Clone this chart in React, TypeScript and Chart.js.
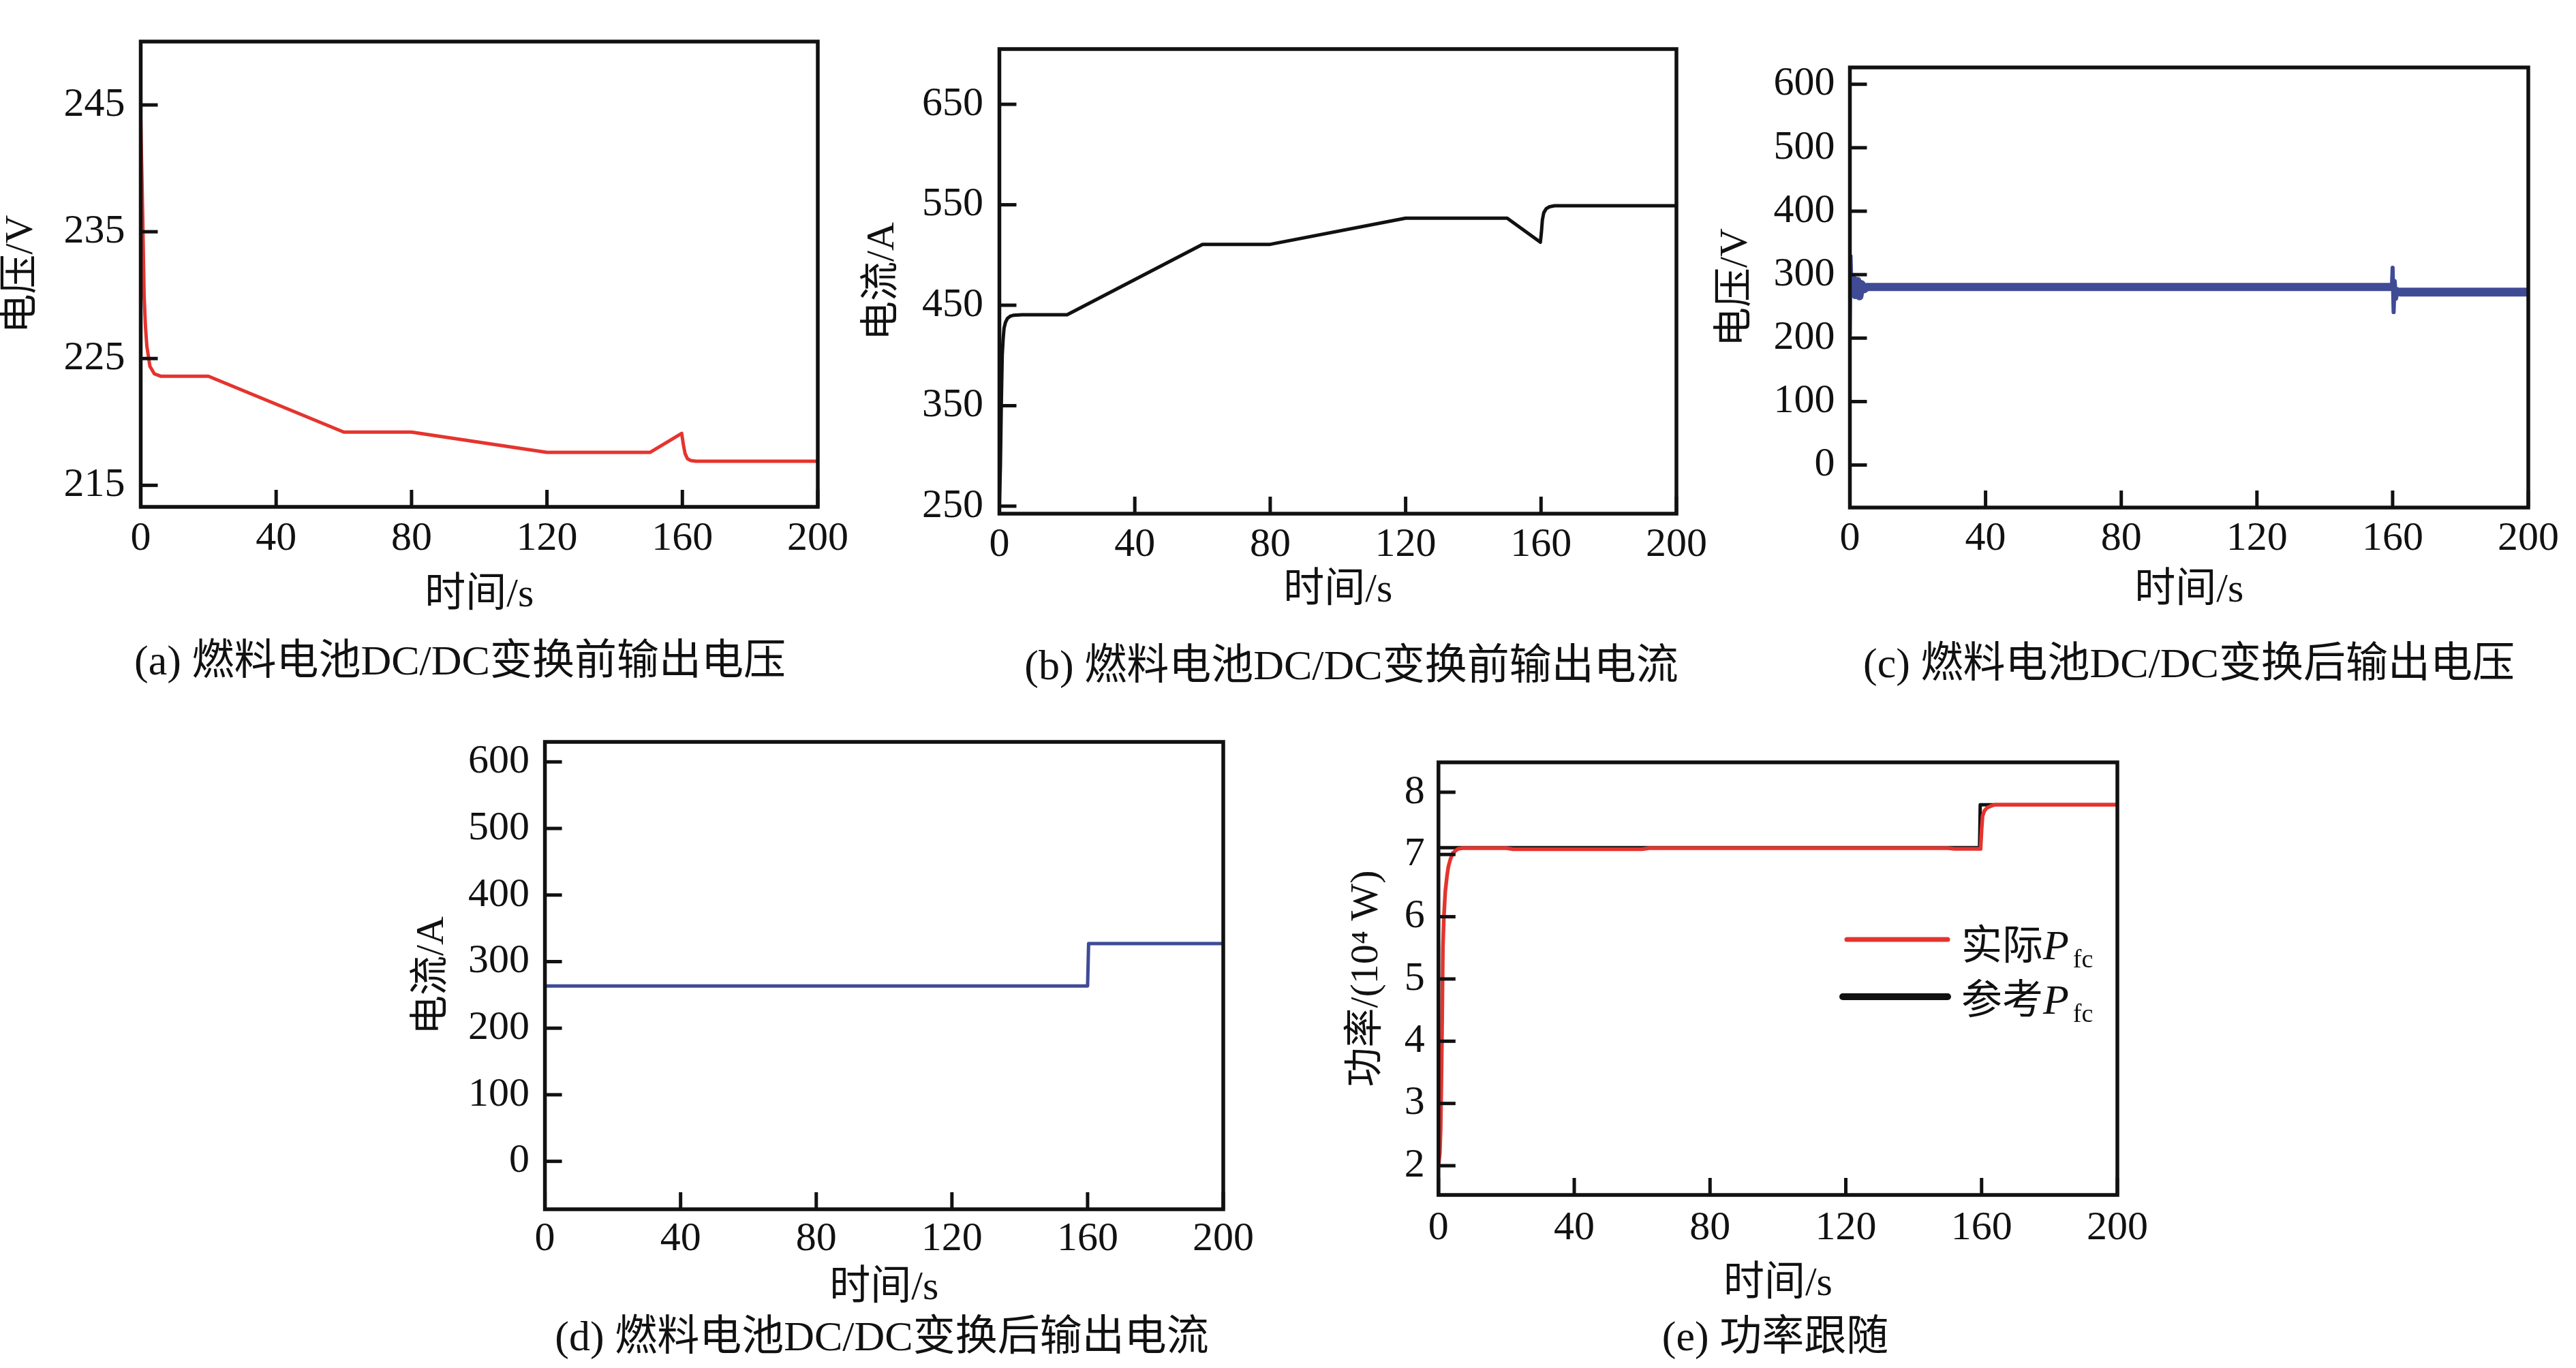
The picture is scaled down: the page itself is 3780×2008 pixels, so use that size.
import React, { useEffect, useRef } from "react";
import { Chart, registerables } from "chart.js";

Chart.register(...registerables);

// ---------- shared ticks ----------
const timeTicks = [0, 40, 80, 120, 160, 200];

// ---------- (a) fuel cell voltage before DC/DC ----------
const timeA = [0, 0.3, 0.6, 1.0, 1.4, 1.8, 2.7, 4.0, 6.0, 20, 60, 80, 120, 150.5, 159.8, 160.3, 160.8, 161.5, 162.5, 164, 200];
const voltA = [244, 240, 236, 230, 227.5, 226, 224.4, 223.8, 223.6, 223.6, 219.2, 219.2, 217.6, 217.6, 219.1, 218.2, 217.5, 217.1, 216.95, 216.9, 216.9];
const yTicksA = [215, 225, 235, 245];

// ---------- (b) fuel cell current before DC/DC ----------
const timeB = [0, 0.3, 0.57, 0.84, 1.1, 1.37, 1.8, 2.4, 3.2, 4.1, 6.7, 20, 60, 80, 120, 150, 159.8, 160.1, 160.4, 160.8, 161.5, 162.5, 164, 200];
const currB = [250, 290, 352, 400, 416, 427, 433, 437, 439, 440, 440.5, 440.5, 510.6, 510.6, 536.6, 536.6, 512.7, 522, 535, 542, 546, 548, 549, 549];
const yTicksB = [250, 350, 450, 550, 650];

// ---------- (c) voltage after DC/DC ----------
const timeC0 = [0, 0.25, 0.5, 0.8, 1.1];
const voltC0 = [557, 206, 330, 268, 292];
const timeC1 = [1.1, 1.6, 2.2, 2.8, 3.4, 4.2, 5.0, 159.8];
const voltC1 = [292, 268, 290, 266, 285, 277, 280.5, 280.5];
const timeC2 = [159.8, 160.0, 160.3, 160.6, 161.0, 161.5, 162.2];
const voltC2 = [280.5, 311, 241, 290, 262, 277, 272.5];
const timeC3 = [162.2, 200];
const voltC3 = [272.5, 272.5];
const yTicksC = [0, 100, 200, 300, 400, 500, 600];

// ---------- (d) current after DC/DC ----------
const timeD = [0, 160, 160.3, 200];
const currD = [263.5, 263.5, 327.2, 327.2];
const yTicksD = [0, 100, 200, 300, 400, 500, 600];

// ---------- (e) power tracking ----------
const timeEact = [0, 0.4, 0.65, 0.85, 1.05, 1.3, 1.6, 2.0, 2.5, 2.9, 3.5, 4.2, 5.0, 5.8, 7, 20, 22, 60, 62, 150, 152, 159.7, 160.0, 160.3, 160.8, 161.6, 162.8, 164, 200];
const powEact = [2.0, 2.2, 2.6, 3.3, 4.15, 5.5, 6.0, 6.4, 6.65, 6.8, 6.92, 7.02, 7.06, 7.09, 7.1, 7.1, 7.085, 7.085, 7.1, 7.1, 7.09, 7.09, 7.4, 7.62, 7.7, 7.75, 7.78, 7.8, 7.8];
const timeEref = [0, 159.4, 159.6, 200];
const powEref = [7.11, 7.11, 7.8, 7.8];
const yTicksE = [2, 3, 4, 5, 6, 7, 8];
const legendMain = ["实际", "参考"];
const legendSymbol = "P";
const legendSub = "fc";

// ---------- styling ----------
const INK = "#111111";
const RED = "#E5342E";
const BLUE = "#404B96";
const BLACK = "#111111";
const SERIF = "'Liberation Serif', 'Noto Sans CJK SC', serif";

function pts(xs: number[], ys: number[]) {
  return xs.map((x, i) => ({ x, y: ys[i] }));
}

type DS = { label: string; xs: number[]; ys: number[]; color: string; width: number };
type LegendItem = { main: string; color: string; width: number; x1: number; x2: number; y: number; tx: number; base: number; x1c?: number };
type Spec = {
  cx: number; cy: number; cw: number;
  plotL: number; plotR: number; plotT: number; plotB: number;
  xAxisH: number; yTitleX: number; yTickPad: number; xTickPad: number;
  yMin: number; yMax: number; yTicks: number[]; yTitle: string;
  datasets: DS[]; legend?: LegendItem[];
};

const framePlugin = {
  id: "frameTicks",
  afterDatasetsDraw(chart: any, _args: any, opts: any) {
    const { ctx, chartArea: a, scales } = chart;
    ctx.save();
    ctx.strokeStyle = INK;
    ctx.lineCap = "butt";
    ctx.lineWidth = 5;
    const len = 25;
    scales.x.ticks.forEach((t: any) => {
      const px = scales.x.getPixelForValue(t.value);
      ctx.beginPath();
      ctx.moveTo(px, a.bottom);
      ctx.lineTo(px, a.bottom - len);
      ctx.stroke();
    });
    scales.y.ticks.forEach((t: any) => {
      const py = scales.y.getPixelForValue(t.value);
      ctx.beginPath();
      ctx.moveTo(a.left, py);
      ctx.lineTo(a.left + len, py);
      ctx.stroke();
    });
    ctx.lineWidth = 5.5;
    ctx.strokeRect(a.left, a.top, a.right - a.left, a.bottom - a.top);

    const legend: LegendItem[] | undefined = opts && opts.legend;
    if (legend) {
      legend.forEach((it) => {
        ctx.strokeStyle = it.color;
        ctx.lineWidth = it.width;
        ctx.lineCap = "round";
        ctx.beginPath();
        ctx.moveTo(it.x1, it.y);
        ctx.lineTo(it.x2, it.y);
        ctx.stroke();
        ctx.fillStyle = INK;
        ctx.textBaseline = "alphabetic";
        ctx.textAlign = "left";
        ctx.font = `60px ${SERIF}`;
        ctx.fillText(it.main, it.tx, it.base);
        let x = it.tx + ctx.measureText(it.main).width;
        ctx.font = `italic 62px 'Liberation Serif', serif`;
        ctx.fillText(legendSymbol, x, it.base);
        x += ctx.measureText(legendSymbol).width + 6;
        ctx.font = `38px 'Liberation Serif', serif`;
        ctx.fillText(legendSub, x, it.base + 12);
      });
    }
    ctx.restore();
  },
};

function buildConfig(p: Spec): any {
  const ch = p.plotB - p.cy + p.xAxisH;
  return {
    type: "line",
    data: {
      datasets: p.datasets.map((d) => ({
        label: d.label,
        data: pts(d.xs, d.ys),
        borderColor: d.color,
        backgroundColor: d.color,
        borderWidth: d.width,
        pointRadius: 0,
        tension: 0,
        fill: false,
        borderJoinStyle: "round",
        borderCapStyle: "round",
      })),
    },
    options: {
      responsive: false,
      maintainAspectRatio: false,
      animation: false,
      devicePixelRatio: 1,
      events: [],
      layout: { padding: { left: 0, top: p.plotT - p.cy, right: p.cx + p.cw - p.plotR, bottom: 0 } },
      plugins: {
        legend: { display: false },
        tooltip: { enabled: false },
        title: { display: false },
        frameTicks: { legend: p.legend },
      },
      scales: {
        x: {
          type: "linear",
          min: 0,
          max: 200,
          afterBuildTicks: (s: any) => {
            s.ticks = timeTicks.map((v) => ({ value: v }));
          },
          afterFit: (s: any) => {
            s.height = p.xAxisH;
          },
          grid: { display: false, drawTicks: false },
          border: { display: false },
          ticks: { font: { family: SERIF, size: 60 }, color: INK, padding: p.xTickPad, maxRotation: 0, autoSkip: false },
          title: {
            display: true,
            text: "时间/s",
            font: { family: SERIF, size: 60, lineHeight: 1 },
            color: INK,
            padding: { top: 0, bottom: 0 },
          },
        },
        y: {
          type: "linear",
          min: p.yMin,
          max: p.yMax,
          afterBuildTicks: (s: any) => {
            s.ticks = p.yTicks.map((v) => ({ value: v }));
          },
          afterFit: (s: any) => {
            s.width = p.plotL - p.cx;
          },
          grid: { display: false, drawTicks: false },
          border: { display: false },
          ticks: { font: { family: SERIF, size: 60 }, color: INK, padding: p.yTickPad, autoSkip: false },
          title: {
            display: true,
            text: p.yTitle,
            font: { family: SERIF, size: 58, lineHeight: 1 },
            color: INK,
            padding: { top: p.yTitleX - p.cx - 29, bottom: 0 },
          },
        },
      },
    },
    plugins: [framePlugin],
  };
}

const specs: Spec[] = [
  {
    cx: 0, cy: 0, cw: 1260, plotL: 206.5, plotR: 1200, plotT: 61, plotB: 744,
    xAxisH: 160, yTitleX: 32, yTickPad: 23, xTickPad: 11,
    yMin: 213.3, yMax: 250, yTicks: yTicksA, yTitle: "电压/V",
    datasets: [{ label: "电压", xs: timeA, ys: voltA, color: RED, width: 5 }],
  },
  {
    cx: 1260, cy: 0, cw: 1260, plotL: 1466.5, plotR: 2460, plotT: 72, plotB: 754,
    xAxisH: 143, yTitleX: 1296, yTickPad: 23.5, xTickPad: 10,
    yMin: 242.5, yMax: 705, yTicks: yTicksB, yTitle: "电流/A",
    datasets: [{ label: "电流", xs: timeB, ys: currB, color: BLACK, width: 5 }],
  },
  {
    cx: 2500, cy: 0, cw: 1280, plotL: 2714.5, plotR: 3710, plotT: 99, plotB: 745,
    xAxisH: 152, yTitleX: 2548, yTickPad: 22, xTickPad: 10,
    yMin: -67, yMax: 626.5, yTicks: yTicksC, yTitle: "电压/V",
    datasets: [
      { label: "电压", xs: timeC1, ys: voltC1, color: BLUE, width: 12 },
      { label: "电压", xs: timeC3, ys: voltC3, color: BLUE, width: 13 },
      { label: "电压", xs: timeC2, ys: voltC2, color: BLUE, width: 6 },
      { label: "电压", xs: timeC0, ys: voltC0, color: BLUE, width: 3 },
    ],
  },
  {
    cx: 560, cy: 1000, cw: 1300, plotL: 799.6, plotR: 1795, plotT: 1089, plotB: 1775,
    xAxisH: 146, yTitleX: 634.6, yTickPad: 22.6, xTickPad: 8,
    yMin: -72, yMax: 630, yTicks: yTicksD, yTitle: "电流/A",
    datasets: [{ label: "电流", xs: timeD, ys: currD, color: BLUE, width: 5 }],
  },
  {
    cx: 1900, cy: 1000, cw: 1280, plotL: 2110.8, plotR: 3107, plotT: 1119, plotB: 1754,
    xAxisH: 161, yTitleX: 2006, yTickPad: 20, xTickPad: 13.6,
    yMin: 1.53, yMax: 8.48, yTicks: yTicksE, yTitle: "功率/(10⁴ W)",
    datasets: [
      { label: "实际Pfc", xs: timeEact, ys: powEact, color: RED, width: 5.5 },
      { label: "参考Pfc", xs: timeEref, ys: powEref, color: BLACK, width: 5 },
    ],
    legend: [
      { main: legendMain[0], color: RED, width: 7, x1: 810, x2: 958, y: 379, tx: 978, base: 408 },
      { main: legendMain[1], color: BLACK, width: 10, x1: 804, x2: 958, y: 463, tx: 978, base: 488 },
    ],
  },
];

const captions = [
  { text: "(a) 燃料电池DC/DC变换前输出电压", x: 675, y: 969 },
  { text: "(b) 燃料电池DC/DC变换前输出电流", x: 1983, y: 976 },
  { text: "(c) 燃料电池DC/DC变换后输出电压", x: 3212, y: 973 },
  { text: "(d) 燃料电池DC/DC变换后输出电流", x: 1294, y: 1961 },
  { text: "(e) 功率跟随", x: 2605, y: 1961 },
];

function Panel({ spec }: { spec: Spec }) {
  const ref = useRef<HTMLCanvasElement>(null);
  const ch = spec.plotB - spec.cy + spec.xAxisH;
  useEffect(() => {
    if (!ref.current) return;
    const chart = new Chart(ref.current, buildConfig(spec));
    return () => chart.destroy();
  }, []);
  return (
    <canvas
      ref={ref}
      width={spec.cw}
      height={ch}
      style={{ position: "absolute", left: spec.cx, top: spec.cy, width: spec.cw, height: ch }}
    />
  );
}

export default function App() {
  return (
    <div style={{ position: "absolute", left: 0, top: 0, width: 3780, height: 2008, background: "#ffffff", overflow: "hidden" }}>
      {specs.map((s, i) => (
        <Panel key={i} spec={s} />
      ))}
      {captions.map((c, i) => (
        <div
          key={"c" + i}
          style={{
            position: "absolute",
            left: c.x,
            top: c.y,
            transform: "translate(-50%, -50%)",
            whiteSpace: "nowrap",
            fontFamily: SERIF,
            fontSize: 62,
            lineHeight: 1,
            color: INK,
          }}
        >
          {c.text}
        </div>
      ))}
    </div>
  );
}
